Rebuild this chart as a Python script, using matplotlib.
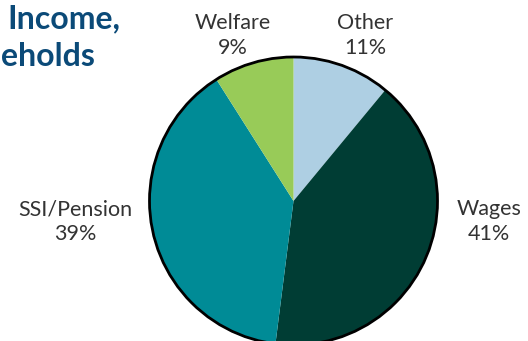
import matplotlib
matplotlib.use("Agg")
import matplotlib.pyplot as plt
from matplotlib.patches import Circle

# Shares of household income by source
categories = ["Other", "Wages", "SSI/Pension", "Welfare"]
shares = [11, 41, 39, 9]
colors = ["#AECFE3", "#003D34", "#008B96", "#98CB58"]
title_lines = ["Income,", "eholds"]

W, H = 528, 341
fig = plt.figure(figsize=(W / 100, H / 100), dpi=100)
ax = fig.add_axes([0, 0, 1, 1])

cx, cy, r = 293.5, H - 201, 144
ax.pie(shares, colors=colors, startangle=90, counterclock=False,
       center=(cx, cy), radius=r, wedgeprops=dict(linewidth=0))
ax.add_patch(Circle((cx, cy), r, fill=False, edgecolor="black", linewidth=2.0))
ax.set_xlim(0, W)
ax.set_ylim(0, H)
ax.set_aspect("equal")
ax.axis("off")

# label anchors (x centre, baseline of first line) in pixels from top-left
label_pos = {
    "Welfare": (233, 29),
    "Other": (365, 29),
    "SSI/Pension": (75, 215),
    "Wages": (489, 215),
}
label_font = dict(family="Lato", fontsize=15.5, color="#333333")
for name, share in zip(categories, shares):
    x, y = label_pos[name]
    ax.text(x, H - y, name, ha="center", va="baseline", **label_font)
    ax.text(x, H - y - 25, f"{share}%", ha="center", va="baseline", **label_font)

title_font = dict(family="Lato", fontsize=23, fontweight="bold", color="#0B4A78")
ax.text(7, H - 28, title_lines[0], ha="left", va="baseline", **title_font)
ax.text(0.5, H - 66, title_lines[1], ha="left", va="baseline", **title_font)

fig.savefig("out.png", dpi=100)
